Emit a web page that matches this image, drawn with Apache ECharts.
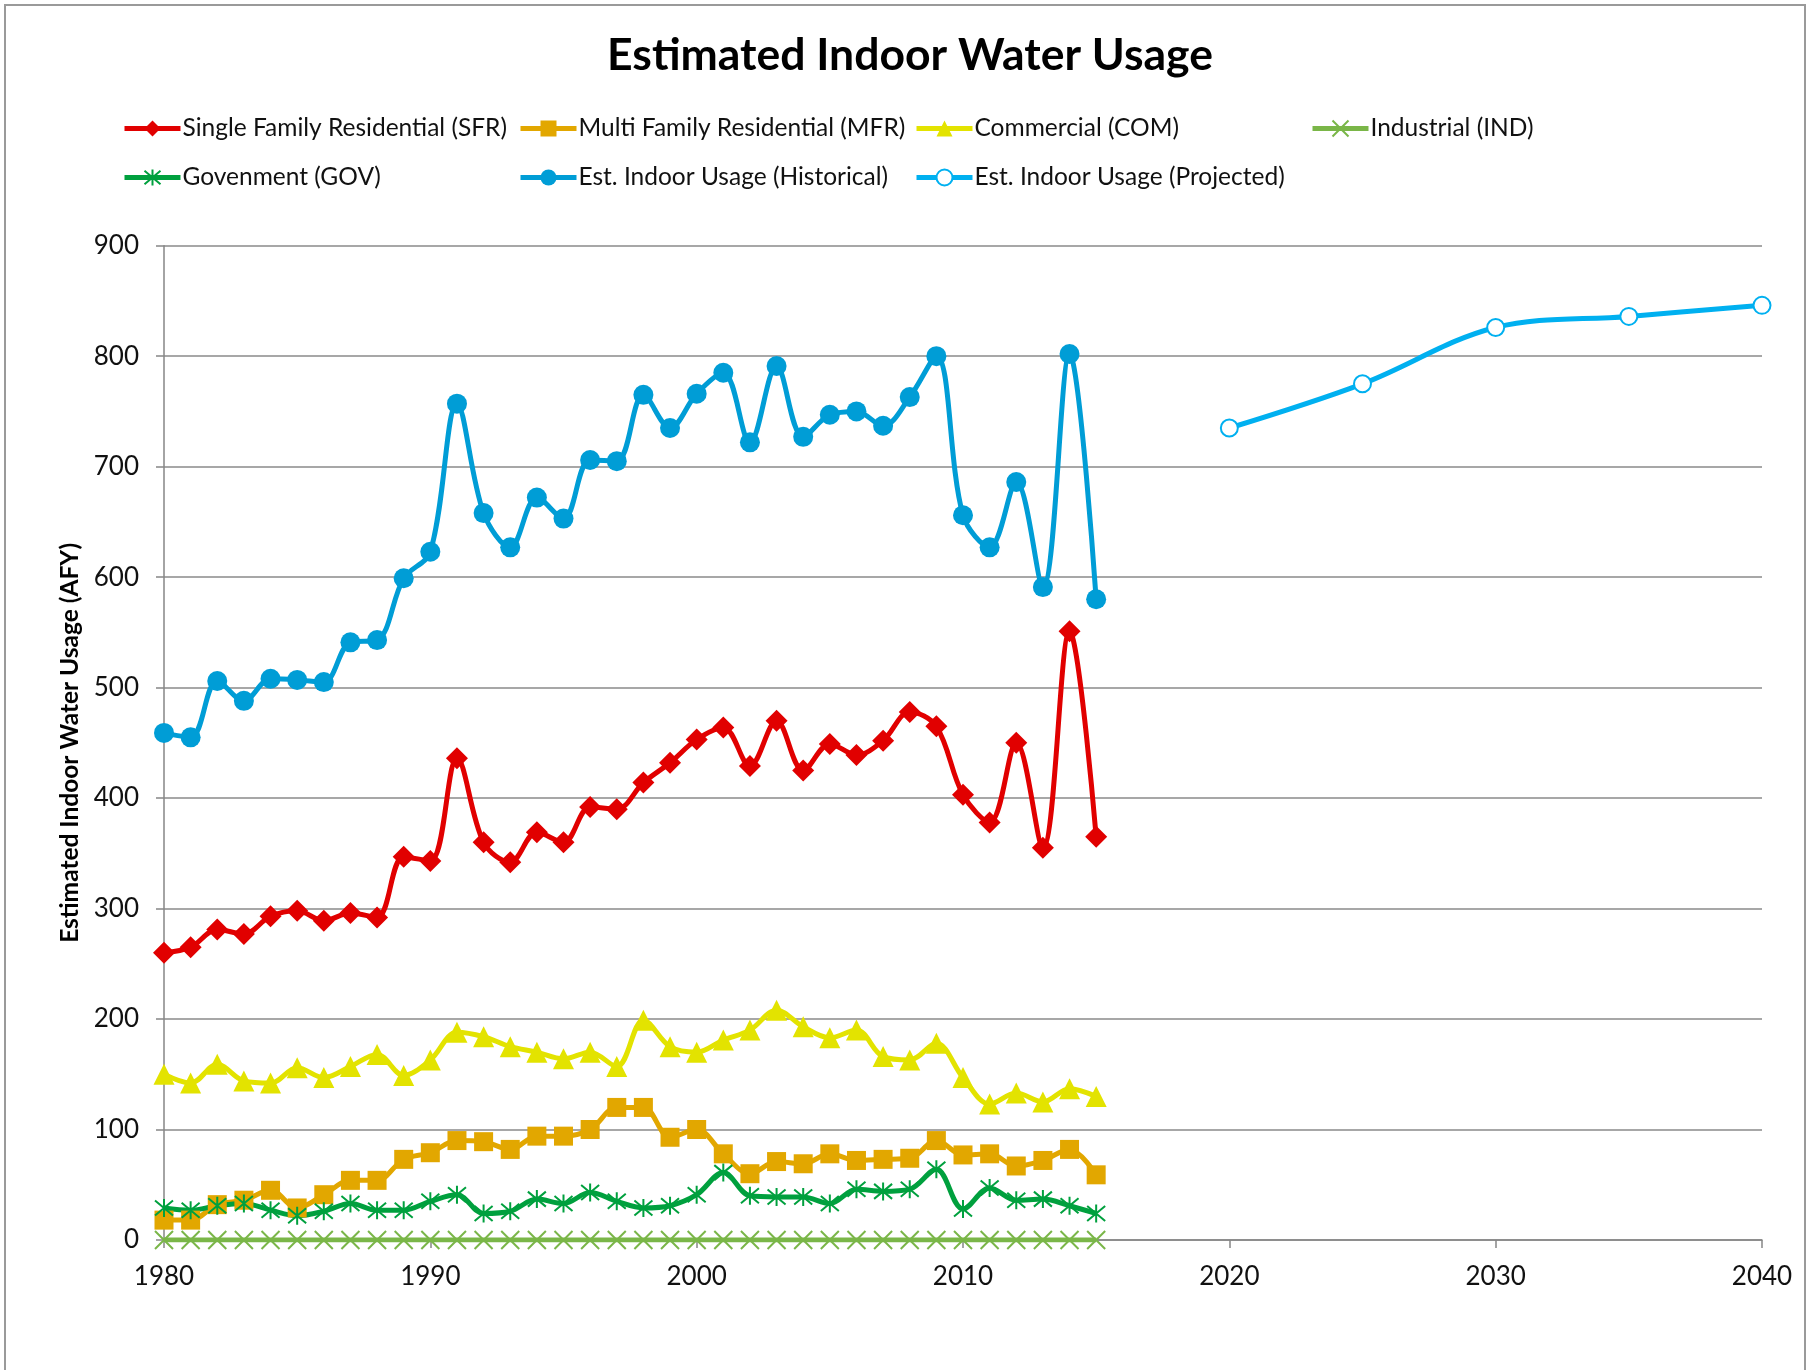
<!DOCTYPE html>
<html>
<head>
<meta charset="utf-8">
<title>Estimated Indoor Water Usage</title>
<script src="https://cdn.jsdelivr.net/npm/echarts@6/dist/echarts.min.js"></script>
<style>
  html, body { margin: 0; padding: 0; background: #fff; }
  #chart { width: 1813px; height: 1370px; }
</style>
</head>
<body>
<div id="chart"></div>
<script>
// values
const years = [1980, 1981, 1982, 1983, 1984, 1985, 1986, 1987, 1988, 1989,
  1990, 1991, 1992, 1993, 1994, 1995, 1996, 1997, 1998, 1999,
  2000, 2001, 2002, 2003, 2004, 2005, 2006, 2007, 2008, 2009,
  2010, 2011, 2012, 2013, 2014, 2015];
const sfr = [260, 265, 281, 277, 293, 298, 289, 296, 292, 347,
  343, 436, 360, 342, 369, 360, 392, 390, 414, 432,
  453, 464, 429, 470, 425, 449, 439, 452, 478, 465,
  403, 378, 450, 355, 551, 365];
const mfr = [18, 18, 32, 36, 45, 29, 41, 54, 54, 73,
  79, 90, 89, 82, 94, 94, 100, 120, 120, 93,
  100, 78, 60, 71, 69, 78, 72, 73, 74, 90,
  77, 78, 67, 72, 82, 59];
const com = [150, 142, 159, 144, 142, 156, 147, 157, 168, 149,
  163, 188, 184, 175, 170, 164, 170, 157, 199, 175,
  170, 181, 190, 208, 193, 183, 190, 166, 163, 178,
  147, 123, 133, 125, 137, 130];
const ind = [0, 0, 0, 0, 0, 0, 0, 0, 0, 0,
  0, 0, 0, 0, 0, 0, 0, 0, 0, 0,
  0, 0, 0, 0, 0, 0, 0, 0, 0, 0,
  0, 0, 0, 0, 0, 0];
const gov = [29, 27, 31, 33, 27, 22, 26, 33, 27, 27,
  35, 41, 24, 26, 37, 33, 43, 35, 29, 31,
  41, 61, 40, 39, 39, 33, 46, 44, 46, 64,
  28, 47, 36, 37, 31, 24];
const hist = [459, 455, 506, 488, 508, 507, 505, 541, 543, 599,
  623, 757, 658, 627, 672, 653, 706, 705, 765, 735,
  766, 785, 722, 791, 727, 747, 750, 737, 763, 800,
  656, 627, 686, 591, 802, 580];
const projYears = [2020, 2025, 2030, 2035, 2040];
const proj = [735, 775, 826, 836, 846];

const xMin = 1980, xMax = 2040, xStep = 10;
const yMin = 0, yMax = 900, yStep = 100;

const FONT = 'Lato, "Open Sans", sans-serif';
const X_SYM = 'path://M0,0L10,10M10,0L0,10';
const AST_SYM = 'path://M0,0L10,10M10,0L0,10M5,-1L5,11';

function pairs(xs, ys) {
  return xs.map((x, i) => [x, ys[i]]);
}

function lineSeries(name, color, xs, ys, symbol, size, extra) {
  let s = {
    name: name,
    type: 'line',
    smooth: 0.35,
    data: pairs(xs, ys),
    symbol: symbol,
    symbolSize: size,
    lineStyle: { color: color, width: 5 },
    itemStyle: { color: color },
    emphasis: { disabled: true }
  };
  return Object.assign(s, extra || {});
}

let series = [
  lineSeries('Single Family Residential (SFR)', '#e10000', years, sfr, 'diamond', 22),
  lineSeries('Multi Family Residential (MFR)', '#e2a700', years, mfr, 'rect', 19),
  lineSeries('Commercial (COM)', '#e3e300', years, com, 'triangle', 21),
  lineSeries('Industrial (IND)', '#7ab648', years, ind, X_SYM, 18, {
    itemStyle: { color: '#7ab648', borderColor: '#7ab648', borderWidth: 2 }
  }),
  lineSeries('Govenment (GOV)', '#00a03e', years, gov, AST_SYM, 18, {
    itemStyle: { color: '#00a03e', borderColor: '#00a03e', borderWidth: 2 }
  }),
  lineSeries('Est. Indoor Usage (Historical)', '#009dd6', years, hist, 'circle', 20),
  lineSeries('Est. Indoor Usage (Projected)', '#00b0f0', projYears, proj, 'circle', 17, {
    itemStyle: { color: '#ffffff', borderColor: '#00b0f0', borderWidth: 2 }
  })
];

// legend laid out as a fixed grid like the original
let legendPos = [[117, 111], [513, 111], [909, 111], [1305, 111],
  [117, 160], [513, 160], [909, 160]];
let legends = series.map((s, i) => ({
  data: [s.name],
  left: legendPos[i][0],
  top: legendPos[i][1],
  itemWidth: 56,
  itemHeight: 20,
  itemGap: 2,
  selectedMode: false,
  lineStyle: { width: 5 },
  textStyle: { fontFamily: FONT, fontSize: 24.5, color: '#111', padding: [0, 0, 0, -3] }
}));

let chart = echarts.init(document.getElementById('chart'));
chart.setOption({
  animation: false,
  backgroundColor: '#fff',
  title: {
    text: 'Estimated Indoor Water Usage',
    left: 905,
    textAlign: 'center',
    top: 28,
    textStyle: { fontFamily: FONT, fontSize: 44.5, fontWeight: 'bold', color: '#000' }
  },
  graphic: [{
    type: 'rect',
    silent: true,
    shape: { x: 5, y: 5, width: 1800, height: 1400 },
    style: { fill: 'none', stroke: '#9a9a9a', lineWidth: 2 }
  }],
  legend: legends,
  grid: { left: 164, right: 51, top: 245.7, bottom: 130 },
  xAxis: {
    type: 'value',
    min: xMin, max: xMax, interval: xStep,
    axisLine: { lineStyle: { color: '#868686', width: 1.5 } },
    axisTick: { show: true, length: 8, lineStyle: { color: '#868686', width: 1.5 } },
    axisLabel: {
      fontFamily: FONT, fontSize: 26, color: '#111', margin: 24,
      formatter: v => String(v)
    },
    splitLine: { show: false }
  },
  yAxis: {
    type: 'value',
    min: yMin, max: yMax, interval: yStep,
    name: 'Estimated Indoor Water Usage (AFY)',
    nameLocation: 'middle',
    nameRotate: 90,
    nameGap: 76,
    nameTextStyle: { fontFamily: FONT, fontSize: 24.5, fontWeight: 'bold', color: '#000' },
    axisLine: { show: true, lineStyle: { color: '#868686', width: 1.5 } },
    axisTick: { show: true, length: 8, lineStyle: { color: '#868686', width: 1.5 } },
    axisLabel: { fontFamily: FONT, fontSize: 26, color: '#111', margin: 25 },
    splitLine: { lineStyle: { color: '#8a8a8a', width: 1.5 } }
  },
  series: series
});
</script>
</body>
</html>
